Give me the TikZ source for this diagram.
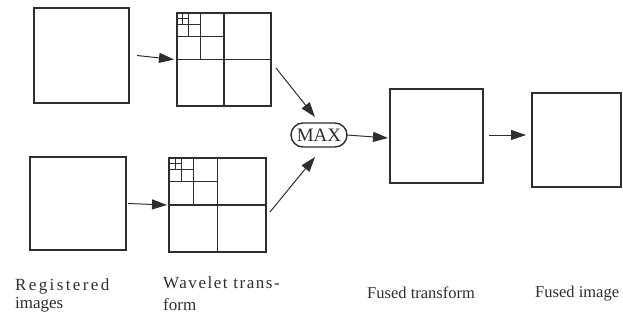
\documentclass[tikz,border=0pt]{standalone}
\usepackage{fontspec}
\setmainfont{Liberation Serif}
\usetikzlibrary{arrows.meta,calc}
\definecolor{ink}{HTML}{2E2E2E}
\newcommand\wavegrid[3]{%
  \begin{scope}[shift={(#1.north west)}]
    \foreach \f in {0.5,0.25,0.125,0.0625}{
      \draw[gridline] (\f*#2,0) -- (\f*#2,-2*\f*#3);
      \draw[gridline] (0,-\f*#3) -- (2*\f*#2,-\f*#3);
    }
  \end{scope}}
\begin{document}
\begin{tikzpicture}[x=1pt,y=1pt,
  box/.style={draw=ink,line width=1.4pt,inner sep=0pt,outer sep=0pt},
  gridline/.style={draw=ink,line width=1.1pt},
  arr/.style={draw=ink,line width=1pt,-{Triangle[length=15pt,width=10pt]}},
  lbl/.style={inner sep=0pt,anchor=base west,align=left,text=ink}]
\useasboundingbox (0,0) rectangle (623,325);
% registered images
\node[box,minimum width=95pt,minimum height=95pt] (A1) at (81.5,269.5) {};
\node[box,minimum width=96pt,minimum height=93pt] (A2) at (78,121.5) {};
% wavelet transforms
\node[box,minimum width=94pt,minimum height=93pt] (W1) at (224,265.5) {};
\wavegrid{W1}{94}{93}
\node[box,minimum width=97pt,minimum height=94pt] (W2) at (217.5,120) {};
\wavegrid{W2}{97}{94}
% max
\node[box,rounded corners=12pt,minimum width=56pt,minimum height=24pt,
      font=\fontsize{19}{19}\selectfont,text=ink] (MAX) at (319,190) {MAX};
% fused transform and fused image
\node[box,minimum width=93pt,minimum height=94pt] (F) at (436.5,189) {};
\node[box,minimum width=89pt,minimum height=94pt] (FI) at (576.5,185) {};
% connectors
\draw[arr] ($(A1.east)+(8,0)$) -- ($(W1.west)+(-3,0)$);
\draw[arr] ($(A2.east)+(2,0)$) -- ($(W2.west)+(-2,0)$);
\draw[arr] ($(W1.east)+(5,-8.5)$) -- ($(MAX.north)+(-4,6)$);
\draw[arr] ($(W2.east)+(4,-7)$) -- ($(MAX.south)+(-4,-10)$);
\draw[arr] (MAX.east) -- ($(F.west)+(-2,-2)$);
\draw[arr] ($(F.east)+(6,1)$) -- ($(FI.west)+(-6,5)$);
% labels
\node[lbl,font=\fontsize{17}{18}\selectfont] (L1) at (15,17)
  {{\addfontfeature{LetterSpace=14}Registered}\\images};
\node[lbl,font=\fontsize{17}{22}\selectfont] (L2) at (163,15)
  {{\addfontfeature{LetterSpace=9}Wavelet trans-}\\form};
\node[lbl,font=\fontsize{16.5}{20}\selectfont] (L3) at (367,27) {Fused transform};
\node[lbl,font=\fontsize{16.5}{20}\selectfont] (L4) at (535,28) {Fused image};
\end{tikzpicture}
\end{document}
